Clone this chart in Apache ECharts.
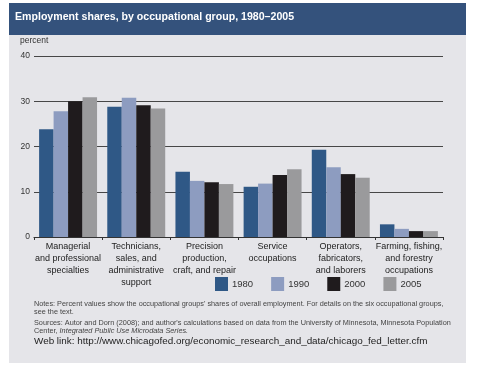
<!DOCTYPE html>
<html><head><meta charset="utf-8">
<script src="https://cdn.jsdelivr.net/npm/echarts@6/dist/echarts.min.js"></script>
<style>html,body{margin:0;padding:0;background:#fff}#c{width:480px;height:370px}</style>
</head><body><div id="c"></div>
<script>
var categories = ["Managerial\nand professional\nspecialties","Technicians,\nsales, and\nadministrative\nsupport","Precision\nproduction,\ncraft, and repair","Service\noccupations","Operators,\nfabricators,\nand laborers","Farming, fishing,\nand forestry\noccupations"];
var years = ["1980","1990","2000","2005"];
var v1980 = [23.8, 28.8, 14.4, 11.1, 19.3, 2.8];
var v1990 = [27.8, 30.8, 12.4, 11.8, 15.4, 1.8];
var v2000 = [30.0, 29.1, 12.1, 13.7, 13.9, 1.3];
var v2005 = [30.9, 28.4, 11.7, 15.0, 13.1, 1.3];
var yTicks = {min: 0, max: 40, interval: 10};
var colors = ["#2f5886", "#8d9cc0", "#1f1b1d", "#9a9a9c"];
var F = '"Liberation Sans", Arial, sans-serif';
var chart = echarts.init(document.getElementById('c'));
var seriesData = [v1980, v1990, v2000, v2005];
chart.setOption({
  backgroundColor: '#ffffff',
  animation: false,
  color: colors,
  textStyle: {fontFamily: F},
  graphic: [
    {type:'rect', z:-10, shape:{x:9,y:3,width:457,height:360}, style:{fill:'#e5e5e9'}},
    {type:'rect', z:-9, shape:{x:9,y:3,width:457,height:32}, style:{fill:'#34527c'}},
    {type:'text', left:15, top:12, style:{text:'Employment shares, by occupational group, 1980–2005', fill:'#ffffff', font:'bold 10.6px '+F}},
    {type:'text', left:20, top:36, style:{text:'percent', fill:'#333', font:'8.5px '+F}},
    {type:'text', left:34, top:300, style:{text:"Notes: Percent values show the occupational groups' shares of overall employment. For details on the six occupational groups,\nsee the text.", fill:'#444', font:'7.3px '+F, lineHeight:8}},
    {type:'text', left:34, top:319, style:{rich:{i:{fontStyle:'italic', fontSize:7.3, fill:'#444', fontFamily:F}}, text:"Sources: Autor and Dorn (2008); and author's calculations based on data from the University of Minnesota, Minnesota Population\nCenter, {i|Integrated Public Use Microdata Series.}", fill:'#444', font:'7.3px '+F, lineHeight:8}},
    {type:'text', left:34, top:336, style:{text:'Web link: http://www.chicagofed.org/economic_research_and_data/chicago_fed_letter.cfm', fill:'#222', font:'9.9px '+F}}
  ],
  legend: {
    left: 215, top: 277, padding: 0, itemWidth: 13, itemHeight: 14, itemGap: 18,
    icon: 'rect',
    data: years,
    textStyle: {fontSize: 9.5, color: '#333', fontFamily: F, padding:[0,0,0,-1]}
  },
  grid: {left: 34, right: 37, top: 56, height: 181},
  xAxis: {
    type: 'category', data: categories,
    axisLine: {lineStyle: {color: '#333', width: 1.2}},
    axisTick: {show: true, length: 3, lineStyle: {color: '#333'}},
    axisLabel: {interval: 0, fontSize: 9, color: '#222', lineHeight: 12, margin: 4, fontFamily: F}
  },
  yAxis: {
    type: 'value', min: yTicks.min, max: yTicks.max, interval: yTicks.interval,
    axisLine: {show: false}, axisTick: {show: false},
    splitLine: {lineStyle: {color: '#474747', width: 1.2}},
    axisLabel: {fontSize: 8.5, color: '#333', margin: 4, fontFamily: F}
  },
  series: years.map(function(y, i){
    return {name: y, type: 'bar', data: seriesData[i], barGap: '0%', barCategoryGap: '15%'};
  })
});
</script></body></html>
